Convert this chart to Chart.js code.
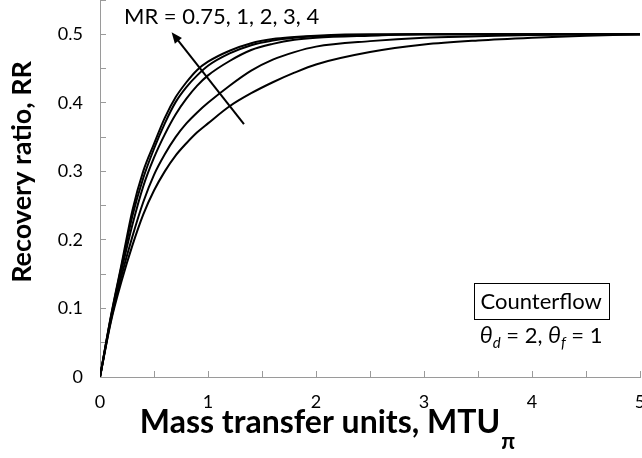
<!DOCTYPE html>
<html>
<head>
<meta charset="utf-8">
<script src="https://cdn.jsdelivr.net/npm/chart.js@4"></script>
<style>
  html, body { margin: 0; padding: 0; background: #fff; }
</style>
</head>
<body>
<canvas id="chart" width="642" height="458"></canvas>
<script>
// mass transfer units (x) shared by all curves
const mtu = [0, 0.1, 0.2, 0.3, 0.4, 0.5, 0.6, 0.7, 0.8, 0.9, 1, 1.2, 1.4, 1.6, 1.8, 2, 2.5, 3, 3.5, 4, 4.5, 5];

// recovery ratio per mass flow ratio MR
const rrMR075 = [0, 0.080, 0.140, 0.192, 0.237, 0.272, 0.300, 0.323, 0.341, 0.357, 0.370, 0.395, 0.414, 0.430, 0.444, 0.456, 0.474, 0.485, 0.491, 0.495, 0.498, 0.5];
const rrMR1   = [0, 0.082, 0.148, 0.205, 0.255, 0.295, 0.325, 0.350, 0.370, 0.386, 0.400, 0.425, 0.447, 0.463, 0.474, 0.482, 0.490, 0.495, 0.497, 0.499, 0.5, 0.5];
const rrMR2   = [0, 0.085, 0.156, 0.222, 0.278, 0.320, 0.354, 0.383, 0.406, 0.425, 0.440, 0.461, 0.477, 0.486, 0.492, 0.495, 0.498, 0.5, 0.5, 0.5, 0.5, 0.5];
const rrMR3   = [0, 0.087, 0.162, 0.235, 0.290, 0.333, 0.370, 0.401, 0.423, 0.440, 0.454, 0.472, 0.484, 0.491, 0.495, 0.497, 0.499, 0.5, 0.5, 0.5, 0.5, 0.5];
const rrMR4   = [0, 0.088, 0.165, 0.243, 0.300, 0.340, 0.378, 0.408, 0.430, 0.448, 0.460, 0.476, 0.487, 0.493, 0.496, 0.498, 0.5, 0.5, 0.5, 0.5, 0.5, 0.5];

const mrValues = ['0.75', '1', '2', '3', '4'];
const curves = [rrMR075, rrMR1, rrMR2, rrMR3, rrMR4];

const FONT = "Lato, 'Open Sans', sans-serif";

const toPoints = ys => ys.map((v, i) => ({ x: mtu[i], y: v }));

// arrow (tail -> head) in data units
const arrowTail = { x: 1.333, y: 0.369 };
const arrowHead = { x: 0.663, y: 0.503 };

const notes = {
  id: 'notes',
  afterDraw(chart) {
    const { ctx, scales: { x, y } } = chart;
    ctx.save();
    ctx.fillStyle = '#000';
    ctx.strokeStyle = '#000';

    // arrow
    const x1 = x.getPixelForValue(arrowTail.x), y1 = y.getPixelForValue(arrowTail.y);
    const x2 = x.getPixelForValue(arrowHead.x), y2 = y.getPixelForValue(arrowHead.y);
    const ang = Math.atan2(y2 - y1, x2 - x1);
    const hl = 11, hw = 4.5;
    ctx.lineWidth = 2;
    ctx.beginPath();
    ctx.moveTo(x1, y1);
    ctx.lineTo(x2 - Math.cos(ang) * hl * 0.8, y2 - Math.sin(ang) * hl * 0.8);
    ctx.stroke();
    ctx.beginPath();
    ctx.moveTo(x2, y2);
    ctx.lineTo(x2 - Math.cos(ang) * hl - Math.sin(ang) * hw, y2 - Math.sin(ang) * hl + Math.cos(ang) * hw);
    ctx.lineTo(x2 - Math.cos(ang) * hl + Math.sin(ang) * hw, y2 - Math.sin(ang) * hl - Math.cos(ang) * hw);
    ctx.closePath();
    ctx.fill();

    // MR label
    ctx.font = '22px ' + FONT;
    ctx.textAlign = 'left';
    ctx.textBaseline = 'middle';
    ctx.fillText('MR = ' + mrValues.join(', '), x.getPixelForValue(0.222), y.getPixelForValue(0.525));

    // Counterflow box
    const bx = x.getPixelForValue(4.085), by = y.getPixelForValue(0.111);
    ctx.font = '22px ' + FONT;
    ctx.textAlign = 'center';
    const tw = ctx.measureText('Counterflow').width;
    ctx.lineWidth = 1;
    ctx.strokeRect(Math.round(bx - tw / 2 - 7) + 0.5, Math.round(by - 18) + 0.5, Math.round(tw + 14), 36);
    ctx.fillText('Counterflow', bx, by + 1);

    // theta line
    const parts = [
      ['italic 23px ' + FONT, '\u03B8', 0],
      ['italic 15px ' + FONT, 'd', 5],
      ['22px ' + FONT, ' = 2, ', 0],
      ['italic 23px ' + FONT, '\u03B8', 0],
      ['italic 15px ' + FONT, 'f', 5],
      ['22px ' + FONT, ' = 1', 0]
    ];
    let total = 0;
    parts.forEach(p => { ctx.font = p[0]; total += ctx.measureText(p[1]).width; });
    let cx = bx - total / 2;
    const ty = 343;
    ctx.textAlign = 'left';
    ctx.textBaseline = 'alphabetic';
    parts.forEach(p => {
      ctx.font = p[0];
      ctx.fillText(p[1], cx, ty + p[2]);
      cx += ctx.measureText(p[1]).width;
    });

    // y axis title
    ctx.save();
    ctx.translate(22, 172);
    ctx.rotate(-Math.PI / 2);
    ctx.font = 'bold 27px ' + FONT;
    ctx.textAlign = 'center';
    ctx.textBaseline = 'middle';
    ctx.fillText('Recovery ratio, RR', 0, 0);
    ctx.restore();

    // x axis title with subscript
    ctx.font = 'bold 32px ' + FONT;
    const main = 'Mass transfer units, MTU';
    const mw = ctx.measureText(main).width;
    ctx.font = 'bold 22px ' + FONT;
    const sw = ctx.measureText('\u03C0').width;
    const sx = 327 - (mw + sw) / 2;
    ctx.textAlign = 'left';
    ctx.textBaseline = 'alphabetic';
    ctx.font = 'bold 32px ' + FONT;
    ctx.fillText(main, sx, 433);
    ctx.font = 'bold 22px ' + FONT;
    ctx.fillText('\u03C0', sx + mw + 1, 449);

    ctx.restore();
  }
};

new Chart(document.getElementById('chart').getContext('2d'), {
  type: 'line',
  data: {
    datasets: curves.map((c, i) => ({
      label: 'MR = ' + mrValues[i],
      data: toPoints(c),
      borderColor: '#000',
      borderWidth: 2,
      pointRadius: 0,
      fill: false,
      cubicInterpolationMode: 'monotone'
    }))
  },
  options: {
    responsive: false,
    animation: false,
    layout: { padding: { left: 0, right: 2, top: 0, bottom: 0 } },
    plugins: { legend: { display: false }, tooltip: { enabled: false } },
    scales: {
      x: {
        type: 'linear',
        min: 0,
        max: 5,
        ticks: {
          stepSize: 0.5,
          padding: 20,
          maxRotation: 0,
          autoSkip: false,
          color: '#000',
          font: { family: FONT, size: 18 },
          callback: v => (Math.abs(v - Math.round(v)) < 1e-6 ? String(Math.round(v)) : '')
        },
        grid: { drawOnChartArea: false, drawTicks: true, tickLength: -6, color: '#9a9a9a' },
        border: { color: '#9a9a9a', width: 1 },
        afterFit: s => { s.height = 81; s.paddingLeft = 0; s.paddingRight = 0; }
      },
      y: {
        min: 0,
        max: 0.55,
        ticks: {
          stepSize: 0.05,
          includeBounds: false,
          padding: 23,
          autoSkip: false,
          color: '#000',
          font: { family: FONT, size: 18 },
          callback: v => {
            const t = Math.round(v * 100);
            return t % 10 === 0 ? String(t / 100) : '';
          }
        },
        grid: { drawOnChartArea: false, drawTicks: true, tickLength: -6, color: '#9a9a9a' },
        border: { color: '#9a9a9a', width: 1 },
        afterFit: s => { s.width = 100; s.paddingTop = 0; s.paddingBottom = 0; }
      }
    }
  },
  plugins: [notes]
});
</script>
</body>
</html>
